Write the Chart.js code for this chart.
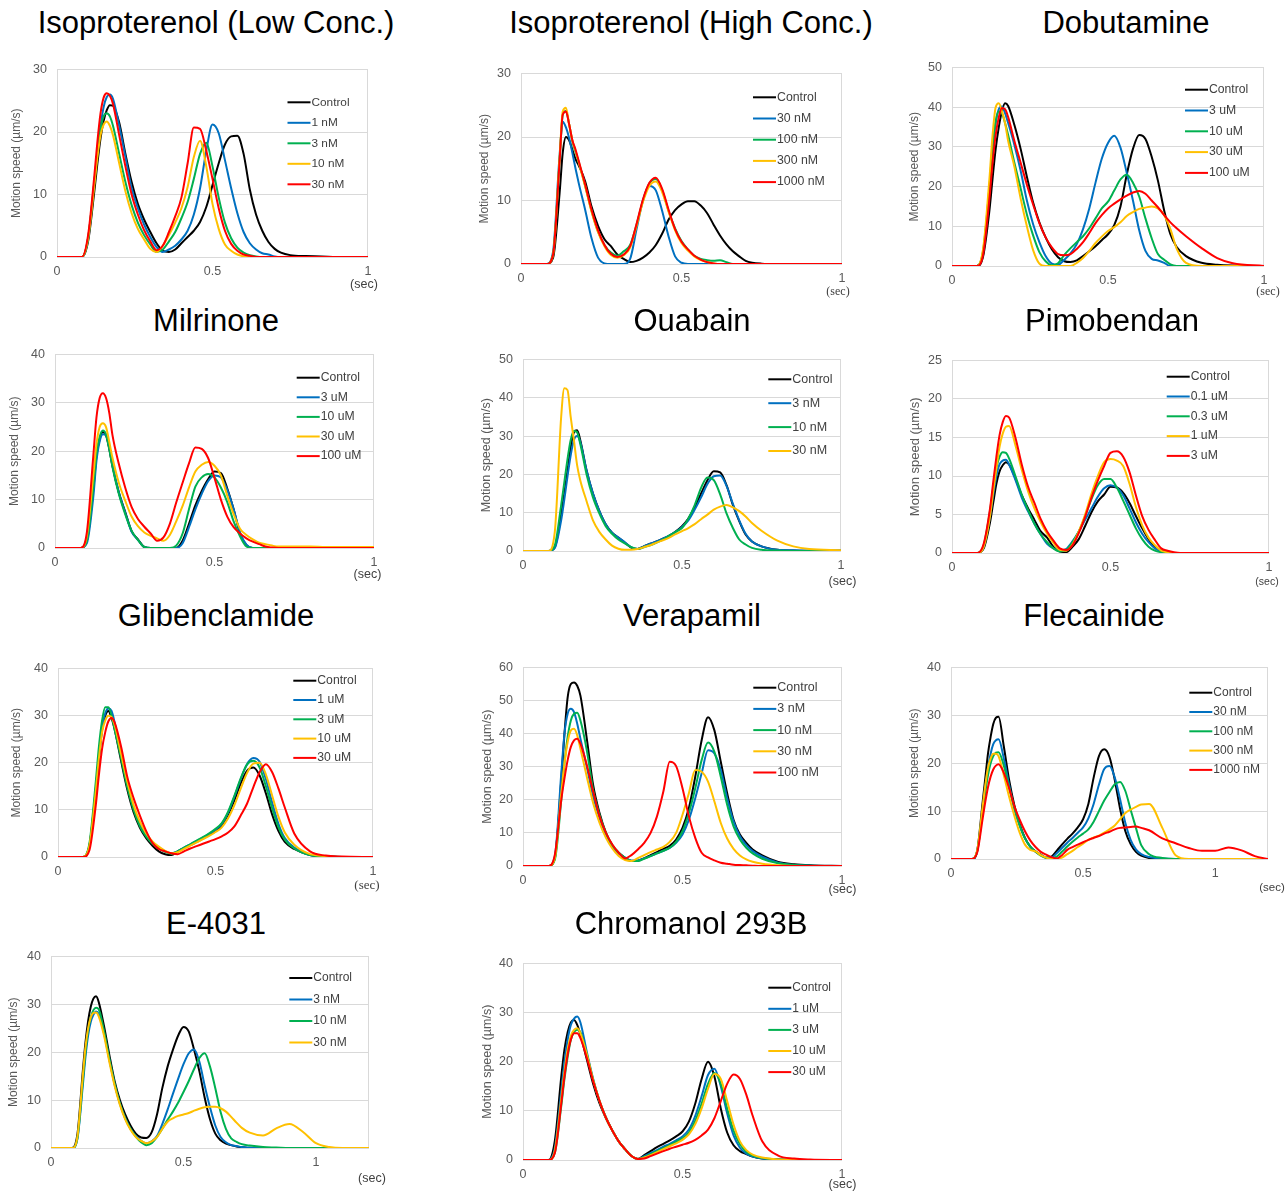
<!DOCTYPE html>
<html>
<head>
<meta charset="utf-8">
<script src="https://cdn.jsdelivr.net/npm/chart.js@4.4.1/dist/chart.umd.min.js"></script>
<style>
  body { margin: 0; width: 1287px; height: 1191px; background: #fff; position: relative; overflow: hidden;
         font-family: 'Liberation Sans', Arial, sans-serif; }
  .ttl { position: absolute; font-size: 31px; line-height: 31px; white-space: nowrap; color: #000;
         transform: translate(-50%, -50%); }
  canvas { position: absolute; }
</style>
</head>
<body>
<script>
// time axis (sec) shared by the panels
const t1 = [0,0.08,0.1,0.12,0.13,0.14,0.15,0.16,0.17,0.18,0.2,0.22,0.24,0.26,0.28,0.3,0.32,0.34,0.36,0.38,0.4,0.42,0.44,0.46,0.48,0.5,0.52,0.54,0.56,0.58,0.6,0.62,0.64,0.66,0.68,0.7,0.72,0.75,0.8,0.85,0.9,1];
const t12 = [0,0.08,0.1,0.12,0.13,0.14,0.15,0.16,0.17,0.18,0.2,0.22,0.24,0.26,0.28,0.3,0.32,0.34,0.36,0.38,0.4,0.42,0.44,0.46,0.48,0.5,0.52,0.54,0.56,0.58,0.6,0.62,0.64,0.66,0.68,0.7,0.72,0.75,0.8,0.85,0.9,0.95,1,1.05,1.1,1.15,1.2];
const xTicks = [0, 0.5, 1];
const COLORS = ['#000000', '#0070C0', '#00B050', '#FFC000', '#FF0000'];

// Isoproterenol (Low Conc.)
const isoLowLabels = ['Control', '1 nM', '3 nM', '10 nM', '30 nM'];
const isoLowSpeed = [
  [0,0,2.5,10.5,15,19,21.8,23.5,24.3,24.2,21.5,16.5,12,8.5,6,4,2.2,1,0.8,1.2,2.2,3.2,4.2,5.6,8,11.5,15,18,19.3,19.4,16.5,10.8,6.8,4.2,2.4,1.3,0.7,0.3,0.15,0.1,0,0],
  [0,0,3,12,17,21,24,25.6,26,25.3,21,16,11,7.8,5.2,3.2,1.6,0.8,1.2,1.8,2.8,4.2,6.8,11,17,21.2,19.8,15.5,11,7,4,2.2,1.2,0.6,0.4,0.1,0,0,0,0,0,0],
  [0,0,3,12,16.5,20.5,22.5,23,22.5,21,16.5,12,8.3,5.5,3.5,2,0.8,1.2,2.5,4,6.2,8.8,12.5,16.5,18.3,14.5,9.5,5.5,3,1.5,0.7,0.3,0.1,0,0,0,0,0,0,0,0,0],
  [0,0,3,11.5,16,19.5,21.2,21.7,21,19.5,15,10.5,7,4.5,2.8,1.3,0.8,1.8,3.5,5.5,7.8,11.2,16,18.6,14.5,8.5,4.5,2,1,0.4,0.1,0,0,0,0,0,0,0,0,0,0,0],
  [0,0,3.5,13,18.5,23,25.5,26.2,25.8,24.5,19.5,14.5,10,6.8,4.3,2.5,1.1,1.8,4,6.5,9.5,15,20.7,20.5,17,12.5,7.8,4.2,2.1,1,0.4,0.2,0,0,0,0,0,0,0,0,0,0]
];

// Isoproterenol (High Conc.)
const isoHighLabels = ['Control', '30 nM', '100 nM', '300 nM', '1000 nM'];
const isoHighSpeed = [
  [0,0,1,11,17.5,20,19.5,18,16.5,15.5,13,9,6,3.9,2.8,1.5,0.8,0.3,0.5,1,1.8,3,4.8,7,8.5,9.4,9.9,9.9,9.2,8,6.2,4.5,3.1,2,1.2,0.5,0.2,0.05,0,0,0,0],
  [0,0,2,17,22.4,21.5,19.8,17.5,15,12.7,8.5,4,1,0.1,0,0,0,0.8,5.5,10,12.3,11.6,8.3,4.3,1.2,0.2,0,0,0,0,0,0,0,0,0,0,0,0,0,0,0,0],
  [0,0,1.5,16,23.5,24.1,22,19.3,17.6,16,12.3,8.3,5.1,3,1.8,1.3,2,3,6.2,10,12.7,13.4,11.6,8.3,5.6,3.6,2.3,1.3,0.8,0.6,0.5,0.6,0.3,0,0,0,0,0,0,0,0,0],
  [0,0,1.5,16.5,24,24.6,22,19.5,17.8,16,12.2,8.2,5,2.8,1.4,1,1.4,2.6,6,9.8,12.3,13,11.3,8.2,5.3,3.3,2.1,1.2,0.6,0.3,0.1,0,0,0,0,0,0,0,0,0,0,0],
  [0,0,1.5,16,23.5,24,22,19.5,18,16.2,12.5,8.5,5.3,3,1.6,1.1,1.5,2.8,6.3,10.2,12.8,13.6,11.8,8.5,5.5,3.5,2.3,1.3,0.7,0.3,0.1,0,0,0,0,0,0,0,0,0,0,0]
];

// Dobutamine
const dobuLabels = ['Control', '3 uM', '10 uM', '30 uM', '100 uM'];
const dobuSpeed = [
  [0,0,2.5,14,22,29.5,35,39,41,40.3,35.5,29.5,22.5,16,11,7.2,4.2,2.2,1.2,1,1.4,2.5,3.7,5,6.5,8,10.3,15,23,29.5,33,32,27.5,21.5,14,8,4.8,2.5,0.8,0.3,0.1,0],
  [0,0,3.5,19,29,36,39.5,40.2,38.5,36,30.5,24,16.5,10.5,6,2.5,0.6,0.3,1.6,3.2,5.5,9.3,14.5,21,27,31,32.8,29.8,23.5,16.5,9,3.8,1.8,1.4,0.8,0,0,0,0,0,0,0],
  [0,0,4,20,30,36.5,39,38.5,36,33,26,19.5,13,7.7,3.5,1.2,0.2,0.7,2.8,4.5,6,7.5,9.5,12,14.5,16.2,19,21.8,23,21,17.5,12,7,3,1.6,0.4,0,0,0,0,0,0],
  [0,0,4.5,22,33,40,41,39,36,31.5,25,17,10,4,0.6,0,0,0,0,0,0.8,2,3.8,5.8,7.4,8.8,9.8,11,12.6,13.6,14.4,14.7,15,14.5,12.8,9.3,4.4,0.8,0,0,0,0],
  [0,0,3,17,26,33,37.5,39.8,39.5,37.5,31.5,26,20.5,15.5,10.8,7.2,4.7,3,2.7,3,4.3,6,8.3,10.8,12.8,14.5,15.7,16.8,17.7,18.5,18.9,18.2,16.5,14.8,12.8,11,9.5,7.5,4.5,2,0.7,0]
];

// Milrinone
const milrLabels = ['Control', '3 uM', '10 uM', '30 uM', '100 uM'];
const milrSpeed = [
  [0,0,1.5,12,19,22.5,24,23.3,20.5,17,11.5,7.5,3.5,1.8,0.2,0,0,0,0,0,1.5,5,8.8,11.8,14.2,15.8,15.5,12.3,8,3,0.6,0,0,0,0,0,0,0,0,0,0,0],
  [0,0,1,10.5,18,22,23.5,23.3,20.8,17.2,11.5,7.3,3.4,1.7,0.2,0,0,0,0,0,1,4.3,8,11.2,13.8,15,14.6,12,8,3.2,0.7,0,0,0,0,0,0,0,0,0,0,0],
  [0,0,1.5,12.5,19.5,23,24.3,23.5,20.5,16.8,11.2,7,3.6,1.7,0.2,0,0,0,0,0.5,3,8,12.7,14.6,15.3,14.6,12.5,9.5,5.5,2.4,0.3,0,0,0,0,0,0,0,0,0,0,0],
  [0,0,2.5,15,21.5,25,25.8,25,22,18.7,13.5,9.8,6.5,4.5,3.2,2.5,2,1.5,2.7,5.5,8.7,12.5,15.8,17.2,17.8,17,15,10.8,7,4,2.7,1.8,1.1,0.8,0.5,0.3,0.3,0.3,0.3,0.2,0.2,0.2],
  [0,0,3.3,19,27,31,32,31,28,23.4,17.4,12.5,8.5,6,4.4,3,1.5,2.2,5,9.4,13.5,17.5,20.8,20.5,18.6,14.5,10,6.5,4.3,3,2,1.3,0.8,0.3,0.1,0,0,0,0,0,0,0]
];

// Ouabain
const ouabLabels = ['Control', '3 nM', '10 nM', '30 nM'];
const ouabSpeed = [
  [0,0,1,9.5,15,21,27,31,31.5,29,21,15,10.5,7,4.8,3.5,2.2,0.9,0.5,1.2,1.9,2.5,3.2,4,5.1,6.5,8.5,11.5,15,18.5,20.8,20.5,17.2,12,7.8,4.3,2.5,1.2,0.3,0.1,0,0],
  [0,0,0.8,8,13.5,19.5,25,29,30,28.5,21,15,10.5,7,4.8,3.5,2.3,1,0.5,1.2,1.9,2.5,3.2,4,5,6.3,8,10.8,14,17.5,19.5,19.7,17,12.3,8,4.5,2.5,1.2,0.3,0.2,0.1,0.2],
  [0,0,1.5,12,18,24,29,31.3,31,28,20,14,9.8,6.5,4.5,3,2,1,0.5,1,1.5,2.2,3,4,5,6,8.5,12,16.5,19.2,18.5,14.8,9.8,6,3,1.7,0.8,0.3,0.1,0,0,0],
  [0,0,5,35,42.5,42,35,29,22.5,18.5,13,8,5,3,1.4,0.6,0.3,0.3,0.5,1,1.5,2.2,2.8,3.5,4.4,5.2,6,7,8.3,9.5,10.8,11.6,12,11.4,10.4,9,7.3,5.3,2.7,1.2,0.5,0.2]
];

// Pimobendan
const pimoLabels = ['Control', '0.1 uM', '0.3 uM', '1 uM', '3 uM'];
const pimoSpeed = [
  [0,0,0.6,4,6.5,9,10.6,11.4,11.8,11.5,9.7,7.5,5.8,4.3,2.8,2,0.8,0.2,0.1,0.8,1.8,3.5,5.3,6.7,7.6,8.6,8.5,7.8,6.5,4.8,3.2,1.8,0.8,0.3,0.1,0,0,0,0,0,0,0],
  [0,0,0.8,4.8,7.5,10,11.5,12,12.1,11.5,9.5,7.2,5.4,3.8,2.4,1.2,0.6,0.3,0.5,1.5,2.8,4.3,5.8,7.3,8.4,8.8,8.5,7.5,5.8,4,2.5,1.4,0.6,0.2,0,0,0,0,0,0,0,0],
  [0,0,1,5.5,8.5,11,12.5,13.1,13,12.3,10,7.6,5.6,3.8,2.4,1.4,0.6,0.2,0.4,1.4,2.8,4.8,7,8.8,9.6,9.6,8.5,6.8,5,3.2,1.8,0.8,0.3,0.1,0,0,0,0,0,0,0,0],
  [0,0,0.8,4.8,8,11,13.8,15.5,16.4,16.5,14,10.8,8,5.8,4,2.5,1.3,0.4,0.3,1.1,2.8,5,7.7,10,11.8,12.2,12,11.3,9,6,3.6,2,1,0.3,0.1,0,0,0,0,0,0,0],
  [0,0,1.2,5.8,9.2,12.5,15.3,17,17.8,17.6,15,11.5,8.6,6.5,4.4,2.8,1.6,0.6,0.4,1,2.6,4.7,7.2,9.4,11.3,13,13.2,12.5,10.5,7.5,4.8,3,1.7,0.6,0.3,0.1,0,0,0,0,0,0]
];

// Glibenclamide
const gliLabels = ['Control', '1 uM', '3 uM', '10 uM', '30 uM'];
const gliSpeed = [
  [0,0,2.5,14,21,27,30,31,29.5,27,20.5,14.3,9.5,6.2,4,2.4,1.2,0.6,0.4,1.2,1.9,2.5,3.2,3.9,4.7,5.5,6.7,9,12,15.6,18.3,19,17.3,13.5,9,5.5,3.2,1.7,0.4,0.1,0,0],
  [0,0,2.5,14.5,21.5,27.5,30.5,31.5,31,28.5,22,15.5,10.5,7,4.5,3,2,1.2,0.8,1.2,2,2.7,3.4,4.1,4.9,5.8,7,9.4,12.8,16.5,19.7,21,20.2,16.5,11.5,7,4,2,0.4,0.1,0,0],
  [0,0,3,16,23.5,29,31.8,31.8,30,27,21,14.8,10,6.5,4.3,2.8,1.8,1.1,0.7,1.2,2,2.7,3.5,4.2,5,6,7.2,9.6,13,16.7,19.6,20.4,19,15,10.3,6.3,3.7,1.8,0.4,0.1,0,0],
  [0,0,2.5,14,21,26.5,29,30,29.7,28,22,16,11,7.5,5,3.3,2.2,1.3,0.8,1,1.7,2.4,3.1,3.8,4.5,5.3,6.3,8.2,11,14.5,17.8,19.8,20,17.5,13,8.5,5.2,2.6,0.6,0.2,0,0],
  [0,0,1.5,11,17.5,23,26.5,28.8,29.5,28.5,23.5,17,12.5,8.8,5.5,3,1.7,1.2,0.8,0.6,1.2,1.8,2.3,2.8,3.3,3.8,4.4,5.2,6.5,8.8,11.3,14.8,18,19.7,18,14.5,10.5,5,1.2,0.3,0.1,0]
];

// Verapamil
const veraLabels = ['Control', '3 nM', '10 nM', '30 nM', '100 nM'];
const veraSpeed = [
  [0,0,2.5,26,40,51,55,55.5,54.5,51.5,38.5,24.4,16,10,6.2,4,2.5,1.5,1.6,2.4,3.3,4.2,5.2,6.1,8,11.5,17.5,27,38,45,41,31.5,22,14,9.5,7,5,3.2,1.2,0.5,0.2,0],
  [0,0,3,28,40,46,47.5,46.5,43,38.5,30,21,14.5,9.5,6,3.8,2.5,1.7,1.7,2.3,3,3.8,4.6,5.5,7,9.5,14,20.5,28,35,34,29,20.5,13.5,9,6.3,4.5,2.8,1,0.3,0.1,0],
  [0,0,2,20,31,39,44,46,46.3,44,35,23,15.5,10,6.3,4,2.5,1.5,1.5,2.2,3,3.8,4.6,5.5,7.3,10.5,16,23.5,32,37.3,34.5,27,18.5,12,8,5.5,3.8,2.2,0.8,0.3,0.1,0],
  [0,0,2.5,22,31,37.5,41,41.5,39.5,35.5,27,19,13,8.5,5.3,3,1.8,1.5,2.4,3.3,4.2,5,5.8,7.3,10,15.5,22,29,28.5,25.5,19.5,13,8.3,5.2,3.2,2,1.3,0.7,0.2,0,0,0],
  [0,0,3.5,20,26.5,32,36,38,38.5,37,30.5,22.5,15,10,6.5,4,2.3,3.3,5,7,10,15,22.5,31.5,30.2,23.5,15,8.5,4,2.6,1.7,1,0.7,0.4,0.3,0.2,0.1,0,0,0,0,0]
];

// Flecainide (t12)
const fleLabels = ['Control', '30 nM', '100 nM', '300 nM', '1000 nM'];
const fleSpeed = [
  [0,0,2,12,17,22,25.5,28.2,29.5,29.7,23.5,16.5,11.2,7.3,4.4,2.6,1.6,0.9,0.3,0.5,1.7,3,4.2,5.3,6.6,8.3,11.5,17,21.5,22.9,21.3,16.5,10.5,5.8,3.1,1.5,0.7,0.2,0,0,0,0,0,0,0,0,0],
  [0,0,1.8,10.5,15,19,22,24,24.8,25,21,15.5,10.5,7,4.3,2.6,1.5,0.8,0.3,0.3,1.2,2.3,3.4,4.4,5.5,6.6,8.5,11.5,15.5,18.8,19.4,17,12.5,7.5,4,2,1,0.4,0.1,0,0,0,0,0,0,0,0],
  [0,0,1.8,10,14,17.5,20,21.5,22.2,22.3,19.5,15,10.5,7,4.3,2.6,1.5,0.7,0.2,0.1,0.5,1.5,2.6,3.6,4.5,5.3,6.2,7.8,10,12.2,14,15.6,16.1,14.2,10.3,6.5,2.9,1,0.2,0,0,0,0,0,0,0,0],
  [0,0,2,11,15.5,19,21,22,22,21.5,17.5,13,9,5.5,3,1.9,1.6,0.8,0.3,0,0,0.3,1,1.7,2.5,3.2,4,4.5,4.9,5.5,6.2,7,8.3,9.6,10.3,10.9,11.4,11.5,6.5,0.8,0,0,0,0,0,0,0],
  [0,0,1.5,8.5,12,15,17.2,18.7,19.5,19.8,18,14.8,11,8.2,5.8,3.9,2.5,1.5,0.9,0.4,0.1,0.8,1.9,2.5,3,3.5,4,4.4,4.8,5.3,5.7,6.2,6.5,6.6,6.7,6.8,6.5,6,4.3,3.3,2.3,1.7,1.7,2.4,1.8,0.6,0]
];

// E-4031 (t12)
const e4031Labels = ['Control', '3 nM', '10 nM', '30 nM'];
const e4031Speed = [
  [0,0,3,16,22,26.5,29.5,31.2,31.7,30.5,25.5,19.5,14,10,7,4.7,3,2.2,2.1,3.3,7,12.5,17,20.5,23.5,25.3,24.3,20.5,16,10.5,6,3,1.6,0.9,0.6,0.3,0.2,0,0,0,0,0,0,0,0,0,0],
  [0,0,2,13,19,23.5,26.3,27.8,28.5,28,24,18.5,13.3,9.3,6.3,4,2.5,1.5,1,1.4,2.5,5,8,11.3,14.5,17.5,19.8,20.6,18,13,8.5,4.7,2.3,1.2,0.6,0.4,0.2,0.1,0,0,0,0,0,0,0,0,0],
  [0,0,2.2,14,20,24.5,27.3,28.8,29.3,29,24.5,18.7,13.5,9.3,6.2,4,2.4,1.2,0.6,1,2.3,4,5.9,7.6,9.5,11.7,14,16.5,18.8,19.8,17,12.5,7.5,4,2,1.3,0.8,0.5,0.2,0.1,0,0,0,0,0,0,0],
  [0,0,2.5,15,21,25,27.3,28.2,28.3,27.5,23.5,18,13,9,6,3.8,2.3,1.5,1,1.4,2.3,4,5.5,6.2,6.7,7,7.3,7.8,8.2,8.5,8.6,8.6,8.3,7.6,6.5,5.3,4.2,3.2,2.6,4.1,5,3.4,1,0.2,0,0,0]
];

// Chromanol 293B
const chroLabels = ['Control', '1 uM', '3 uM', '10 uM', '30 uM'];
const chroSpeed = [
  [0,0,4,17,22.5,26,28,28.5,27.5,25.5,20.5,15.5,11.5,8.5,6,3.8,2.2,0.8,0.2,1,1.8,2.6,3.3,4,4.8,5.8,7.8,11.5,16.5,20,17,10.5,5.6,3,1.8,1.2,0.7,0.3,0.1,0,0,0],
  [0,0,2.5,14,20,24.5,27.5,28.8,29.2,28,22,16.5,12,8.7,6,3.8,2.2,0.8,0.2,0.8,1.4,2,2.7,3.3,4,4.8,6.2,9,13,17.3,18.6,15,9.5,5,2.5,1.3,0.7,0.3,0.1,0,0,0],
  [0,0,1.5,11,16.5,21,24.5,26,26.5,26,21.5,16.3,12,8.6,6,3.8,2.2,0.8,0.2,0.6,1.2,1.8,2.4,3,3.7,4.4,5.6,8,11.5,15.5,17.7,15.5,10.5,6,3.2,1.7,0.9,0.4,0.1,0,0,0],
  [0,0,2,12.5,18,22.5,25.3,26.5,26.8,25.8,21.5,16.3,12,8.6,6,3.8,2.2,0.8,0.2,0.5,1,1.6,2.2,2.8,3.4,4.1,5.2,7.3,10.5,14.5,17.5,16.5,12,7.2,3.8,2,1.1,0.5,0.1,0,0,0],
  [0,0,1.5,11.5,17,21.5,24.5,25.8,25.8,24.8,20.8,16,12,8.6,6,3.8,2.2,0.8,0.2,0.3,0.8,1.3,1.8,2.3,2.7,3.1,3.5,4.1,5,6.2,8.5,12,15.5,17.4,16.5,13.3,9,3.8,0.9,0.3,0.1,0]
];

const SANS = "'Liberation Sans', Arial, sans-serif";
const SERIF = "'Liberation Serif', 'Times New Roman', serif";

// page layout: plot = [left, top, right, bottom], leg = [line x, first row y, row step, font px], sec = [x, y, font]
const panels = [
  { title: 'Isoproterenol (Low Conc.)', tpos: [216, 22], t: t1, xmax: 1, ymax: 30, ystep: 10, labels: isoLowLabels, speed: isoLowSpeed,
    plot: [57, 64, 368, 257], ygap: 40, yfont: 12, leg: [287.5, 102.3, 20.5, 11.8], sec: [364, 285, `12.5px ${SANS}`] },
  { title: 'Isoproterenol (High Conc.)', tpos: [691, 22], t: t1, xmax: 1, ymax: 30, ystep: 10, labels: isoHighLabels, speed: isoHighSpeed,
    plot: [521, 68, 842, 264], ygap: 36, yfont: 12, leg: [753, 97.3, 21.2, 12.3], sec: [838, 292, `12px ${SERIF}`] },
  { title: 'Dobutamine', tpos: [1126, 22], t: t1, xmax: 1, ymax: 50, ystep: 10, labels: dobuLabels, speed: dobuSpeed,
    plot: [952, 62, 1264, 266], ygap: 37, yfont: 12, leg: [1185, 89.7, 20.8, 12.2], sec: [1268, 292, `12px ${SERIF}`] },
  { title: 'Milrinone', tpos: [216, 320], t: t1, xmax: 1, ymax: 40, ystep: 10, labels: milrLabels, speed: milrSpeed,
    plot: [55, 349, 374, 548], ygap: 40, yfont: 12, leg: [296.7, 377.7, 19.6, 12.2], sec: [367.5, 575, `12.5px ${SANS}`] },
  { title: 'Ouabain', tpos: [692, 320], t: t1, xmax: 1, ymax: 50, ystep: 10, labels: ouabLabels, speed: ouabSpeed,
    plot: [523, 354, 841, 551], ygap: 36, yfont: 12.5, leg: [768.3, 379.3, 23.9, 12.5], sec: [842.5, 582, `12.5px ${SANS}`] },
  { title: 'Pimobendan', tpos: [1112, 320], t: t1, xmax: 1, ymax: 25, ystep: 5, labels: pimoLabels, speed: pimoSpeed,
    plot: [952, 355, 1269, 553], ygap: 37, yfont: 13, leg: [1166.7, 376.7, 19.8, 12.2], sec: [1267, 582, `10.5px ${SANS}`] },
  { title: 'Glibenclamide', tpos: [216, 615], t: t1, xmax: 1, ymax: 40, ystep: 10, labels: gliLabels, speed: gliSpeed,
    plot: [58, 663, 373, 857], ygap: 41, yfont: 12, leg: [293.3, 680.7, 19.3, 12.2], sec: [367, 886, `13px ${SERIF}`] },
  { title: 'Verapamil', tpos: [692, 615], t: t1, xmax: 1, ymax: 60, ystep: 10, labels: veraLabels, speed: veraSpeed,
    plot: [523, 662, 842, 866], ygap: 35, yfont: 12.5, leg: [753.3, 687.7, 21.2, 12.5], sec: [842.5, 890, `12.5px ${SANS}`] },
  { title: 'Flecainide', tpos: [1094, 615], t: t12, xmax: 1.2, ymax: 40, ystep: 10, labels: fleLabels, speed: fleSpeed,
    plot: [951, 662, 1268, 859], ygap: 36, yfont: 12, leg: [1189.3, 692.7, 19.3, 12], sec: [1272, 888, `11.5px ${SANS}`] },
  { title: 'E-4031', tpos: [216, 923], t: t12, xmax: 1.2, ymax: 40, ystep: 10, labels: e4031Labels, speed: e4031Speed,
    plot: [51, 951, 369, 1148], ygap: 37, yfont: 12, leg: [289.3, 978, 21.5, 12], sec: [372, 1179, `12.5px ${SANS}`] },
  { title: 'Chromanol 293B', tpos: [691, 923], t: t1, xmax: 1, ymax: 40, ystep: 10, labels: chroLabels, speed: chroSpeed,
    plot: [523, 958, 842, 1160], ygap: 35, yfont: 12.5, leg: [768.3, 987.7, 21.1, 12], sec: [842.5, 1185, `12.5px ${SANS}`] }
];

// fixed box sizes around each plot area
const YW = 58, TP = 12, RP = 36, XH = 40;

Chart.defaults.font.family = SANS;
Chart.defaults.color = '#595959';

const decor = p => {
  const ox = p.plot[0] - YW, oy = p.plot[1] - TP;
  return {
    id: 'decor',
    beforeDatasetsDraw(chart) {
      const { ctx, chartArea: a } = chart;
      ctx.save();
      ctx.strokeStyle = '#d9d9d9';
      ctx.lineWidth = 1;
      ctx.beginPath();
      ctx.moveTo(Math.round(a.right) - 0.5, a.top);
      ctx.lineTo(Math.round(a.right) - 0.5, a.bottom);
      ctx.stroke();
      ctx.restore();
    },
    afterDatasetsDraw(chart) {
      const { ctx } = chart;
      const [lx, ly, dy, fs] = p.leg;
      ctx.save();
      ctx.font = `${fs}px ${SANS}`;
      ctx.textBaseline = 'middle';
      chart.data.datasets.forEach((d, i) => {
        const x = lx - ox, y = ly + i * dy - oy;
        ctx.strokeStyle = d.borderColor;
        ctx.lineWidth = 2;
        ctx.beginPath(); ctx.moveTo(x, y); ctx.lineTo(x + 23, y); ctx.stroke();
        ctx.fillStyle = '#404040';
        ctx.fillText(d.label, x + 24, y);
      });
      ctx.font = p.sec[2];
      ctx.textAlign = 'center';
      ctx.fillStyle = '#404040';
      ctx.fillText('(sec)', p.sec[0] - ox, p.sec[1] - oy);
      ctx.restore();
    }
  };
};

panels.forEach(p => {
  const [L, T, R, B] = p.plot;

  const ttl = document.createElement('div');
  ttl.className = 'ttl';
  ttl.style.left = p.tpos[0] + 'px';
  ttl.style.top = p.tpos[1] + 'px';
  ttl.textContent = p.title;
  document.body.appendChild(ttl);

  const cv = document.createElement('canvas');
  cv.width = R - L + YW + RP;
  cv.height = B - T + TP + XH;
  cv.style.left = (L - YW) + 'px';
  cv.style.top = (T - TP) + 'px';
  document.body.appendChild(cv);

  const n = p.labels.length;
  new Chart(cv, {
    type: 'line',
    data: {
      datasets: p.labels.map((lab, i) => ({
        label: lab,
        data: p.speed[i].map((v, k) => ({ x: p.t[k], y: v })),
        borderColor: COLORS[i],
        borderWidth: 2,
        pointRadius: 0,
        fill: false,
        cubicInterpolationMode: 'monotone',
        order: n - i
      }))
    },
    options: {
      responsive: false,
      devicePixelRatio: 1,
      animation: false,
      events: [],
      layout: { padding: { left: 0, top: TP, right: RP, bottom: 0 } },
      plugins: { legend: { display: false }, tooltip: { enabled: false } },
      scales: {
        x: {
          type: 'linear', min: 0, max: p.xmax,
          afterBuildTicks: s => { s.ticks = xTicks.map(v => ({ value: v })); },
          ticks: { color: '#595959', font: { size: 12.5 }, padding: 7, maxRotation: 0, autoSkip: false, callback: v => String(v) },
          grid: { display: false, drawTicks: false },
          border: { display: false },
          afterFit: s => { s.height = XH; }
        },
        y: {
          min: 0, max: p.ymax,
          ticks: { stepSize: p.ystep, color: '#595959', font: { size: 12.5 }, padding: 10 },
          grid: { color: '#d9d9d9', drawTicks: false },
          border: { display: true, color: '#d9d9d9' },
          title: { display: true, text: 'Motion speed (µm/s)', color: '#595959', font: { size: p.yfont },
                   padding: { top: YW - p.ygap - p.yfont * 0.6, bottom: 0 } },
          afterFit: s => { s.width = YW; }
        }
      }
    },
    plugins: [decor(p)]
  });
});
</script>
</body>
</html>
